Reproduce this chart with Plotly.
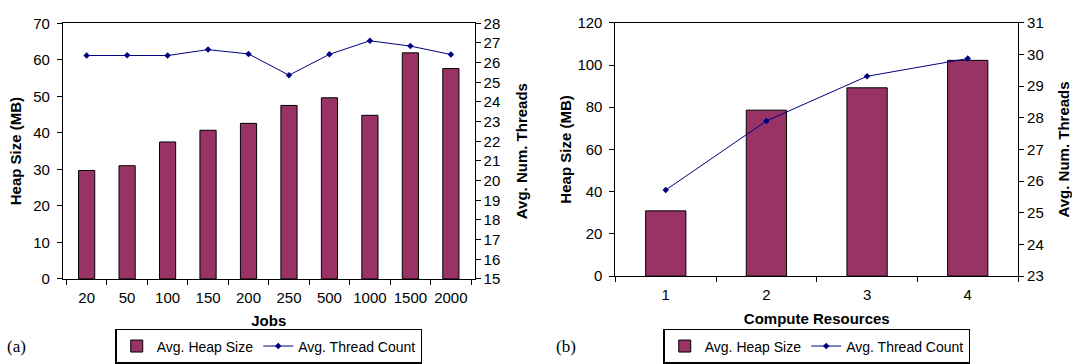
import plotly.graph_objects as go
from plotly.subplots import make_subplots

# ---- data ----
jobs = ["20", "50", "100", "150", "200", "250", "500", "1000", "1500", "2000"]
heap_jobs = [29.7, 31.0, 37.5, 40.7, 42.6, 47.5, 49.6, 44.8, 61.9, 57.6]
threads_jobs = [26.36, 26.37, 26.36, 26.66, 26.44, 25.36, 26.42, 27.11, 26.84, 26.41]

resources = ["1", "2", "3", "4"]
heap_res = [30.9, 78.6, 89.2, 102.2]
threads_res = [25.72, 27.9, 29.31, 29.87]

BAR = "#993366"
LINE = "#000080"
FONT = "Liberation Sans, Arial, sans-serif"
W, H = 1072, 364

fig = make_subplots(rows=1, cols=2, specs=[[{"secondary_y": True}, {"secondary_y": True}]])

fig.add_trace(go.Bar(x=jobs, y=heap_jobs, name="Avg. Heap Size", marker=dict(color=BAR, line=dict(color="black", width=1)),
                     legend="legend"), row=1, col=1, secondary_y=False)
fig.add_trace(go.Scatter(x=jobs, y=threads_jobs, name="Avg. Thread Count", mode="lines+markers",
                         line=dict(color=LINE, width=1), marker=dict(symbol="diamond", size=5, color=LINE),
                         legend="legend"), row=1, col=1, secondary_y=True)
fig.add_trace(go.Bar(x=resources, y=heap_res, name="Avg. Heap Size", marker=dict(color=BAR, line=dict(color="black", width=1)),
                     legend="legend2"), row=1, col=2, secondary_y=False)
fig.add_trace(go.Scatter(x=resources, y=threads_res, name="Avg. Thread Count", mode="lines+markers",
                         line=dict(color=LINE, width=1), marker=dict(symbol="diamond", size=5, color=LINE),
                         legend="legend2"), row=1, col=2, secondary_y=True)

tickfont = dict(family=FONT, size=15, color="black")
titlefont = dict(family=FONT, size=15, color="black", weight="bold")

ax_common = dict(showline=True, linecolor="black", linewidth=1, ticks="outside", ticklen=5, tickcolor="black",
                 showgrid=False, zeroline=False, tickfont=tickfont, tickangle=0)

L1, R1 = 63 / W, 475 / W
L2, R2 = 616 / W, 1019 / W
yd1 = [1 - 284 / H, 1 - 15 / H]
yd2 = [1 - 281 / H, 1 - 14.5 / H]

legend_common = dict(orientation="h", yanchor="middle", y=1 - 355 / H, xanchor="center",
                     bordercolor="black", borderwidth=1.5, font=dict(family=FONT, size=14, color="black"),
                     itemwidth=30, bgcolor="white")

fig.update_layout(
    width=W, height=H, margin=dict(l=0, r=0, t=0, b=0),
    paper_bgcolor="white", plot_bgcolor="white",
    bargap=0.6, font=dict(family=FONT, color="black"),
    xaxis=dict(domain=[L1, R1], type="category", tickson="boundaries", mirror=True, ticklabelstandoff=5,
               title=dict(text="Jobs", font=titlefont, standoff=10), **ax_common),
    yaxis=dict(domain=yd1, range=[0, 70], dtick=10, ticklabelstandoff=4,
               title=dict(text="Heap Size (MB)", font=titlefont, standoff=7), **ax_common),
    yaxis2=dict(domain=yd1, range=[15, 28], dtick=1, side="right", overlaying="y",
                title=dict(text="Avg. Num. Threads", font=titlefont, standoff=17), **ax_common),
    xaxis2=dict(domain=[L2, R2], type="category", tickson="boundaries", mirror=True, ticklabelstandoff=5,
                title=dict(text="Compute Resources", font=titlefont, standoff=11), **ax_common),
    yaxis3=dict(domain=yd2, range=[0, 120], dtick=20, ticklabelstandoff=4,
                title=dict(text="Heap Size (MB)", font=titlefont, standoff=2), **ax_common),
    yaxis4=dict(domain=yd2, range=[23, 31], dtick=1, side="right", overlaying="y3",
                title=dict(text="Avg. Num. Threads", font=titlefont, standoff=18), **ax_common),
    legend=dict(x=(63 + 475) / 2 / W, **legend_common),
    legend2=dict(x=(616 + 1019) / 2 / W, **legend_common),
    annotations=[
        dict(text="(a)", x=5 / W, y=1 - 355 / H, xref="paper", yref="paper", xanchor="left", yanchor="middle",
             showarrow=False, font=dict(family="Liberation Serif, Times New Roman, serif", size=17, color="black")),
        dict(text="(b)", x=555 / W, y=1 - 355 / H, xref="paper", yref="paper", xanchor="left", yanchor="middle",
             showarrow=False, font=dict(family="Liberation Serif, Times New Roman, serif", size=17, color="black")),
    ],
)

fig.write_html("out.html")
